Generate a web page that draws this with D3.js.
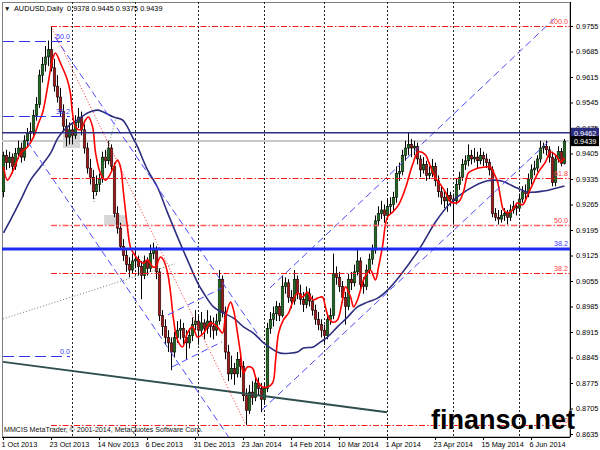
<!DOCTYPE html>
<html><head><meta charset="utf-8">
<script src="https://cdn.jsdelivr.net/npm/d3@7"></script>
<style>
body{margin:0;background:#fff}
svg{display:block}
text{font-family:"Liberation Sans",Arial,sans-serif}
</style>
</head><body>
<svg id="c" width="600" height="450"></svg>
<script>
// ---------------- DATA ----------------
const symbol = "AUDUSD", period = "Daily";
const opens = [
.9300,.9400,.9380,.9395,.9370,.9405,.9420,.9395,.9440,.9460,
.9465,.9510,.9540,.9620,.9650,.9670,.9690,.9640,.9590,.9560,
.9520,.9480,.9450,.9470,.9455,.9490,.9505,.9470,.9420,.9365,
.9340,.9300,.9320,.9335,.9395,.9385,.9420,.9370,.9240,.9200,
.9150,.9125,.9100,.9085,.9110,.9115,.9095,.9070,.9110,.9090,
.9130,.9145,.9080,.8960,.8930,.8900,.8885,.8860,.8900,.8920,
.8925,.8900,.8885,.8905,.8935,.8945,.8920,.8940,.8925,.8945,
.8930,.8920,.8945,.9060,.8970,.8860,.8800,.8815,.8800,.8840,
.8820,.8740,.8700,.8750,.8735,.8775,.8760,.8730,.8760,.8925,
.8950,.8965,.8985,.8960,.9040,.9050,.9010,.9000,.9060,.9020,
.9005,.8990,.9020,.9000,.8975,.8950,.8935,.8920,.8905,.8950,
.8960,.9075,.9065,.9040,.9010,.8985,.9060,.9050,.9080,.9110,
.9045,.9040,.9085,.9115,.9140,.9220,.9240,.9250,.9235,.9260,
.9265,.9285,.9350,.9355,.9400,.9420,.9430,.9420,.9425,.9390,
.9360,.9375,.9345,.9350,.9370,.9330,.9300,.9285,.9275,.9290,
.9280,.9275,.9320,.9340,.9375,.9385,.9400,.9390,.9395,.9385,
.9400,.9390,.9380,.9360,.9240,.9230,.9225,.9235,.9240,.9230,
.9250,.9260,.9255,.9280,.9300,.9295,.9335,.9360,.9365,.9390,
.9420,.9425,.9415,.9395,.9325,.9390,.9410,.9378];
const highs = [
.9410,.9415,.9410,.9405,.9420,.9440,.9435,.9455,.9475,.9490,
.9525,.9560,.9635,.9670,.9700,.9715,.9755,.9665,.9620,.9585,
.9540,.9500,.9490,.9485,.9510,.9530,.9520,.9485,.9435,.9390,
.9360,.9345,.9350,.9410,.9415,.9440,.9430,.9380,.9260,.9215,
.9170,.9140,.9120,.9130,.9135,.9125,.9110,.9125,.9120,.9155,
.9160,.9150,.9090,.8975,.8950,.8920,.8900,.8915,.8945,.8950,
.8940,.8920,.8925,.8955,.8975,.8960,.8970,.8950,.8975,.8960,
.8955,.8965,.9085,.9070,.8985,.8880,.8850,.8830,.8860,.8855,
.8835,.8760,.8770,.8780,.8795,.8790,.8775,.8775,.8940,.8970,
.8985,.9000,.8995,.9070,.9065,.9060,.9030,.9085,.9070,.9045,
.9025,.9040,.9035,.9015,.8990,.8970,.8950,.8935,.8965,.8980,
.9130,.9095,.9080,.9055,.9025,.9075,.9080,.9100,.9140,.9120,
.9065,.9100,.9130,.9155,.9235,.9260,.9275,.9265,.9280,.9285,
.9300,.9370,.9380,.9415,.9440,.9462,.9445,.9440,.9435,.9400,
.9395,.9385,.9370,.9390,.9380,.9345,.9315,.9300,.9310,.9300,
.9295,.9335,.9355,.9390,.9400,.9430,.9415,.9420,.9410,.9420,
.9410,.9405,.9390,.9370,.9255,.9250,.9250,.9255,.9250,.9265,
.9275,.9270,.9295,.9315,.9320,.9350,.9375,.9385,.9400,.9440,
.9435,.9440,.9425,.9410,.9400,.9425,.9420,.9445];
const lows = [
.9285,.9360,.9365,.9350,.9360,.9390,.9380,.9385,.9425,.9440,
.9455,.9495,.9530,.9600,.9630,.9645,.9630,.9575,.9545,.9505,
.9465,.9425,.9430,.9430,.9445,.9475,.9455,.9405,.9350,.9320,
.9280,.9290,.9300,.9325,.9365,.9375,.9355,.9230,.9185,.9140,
.9110,.9080,.9065,.9075,.9090,.9070,.9005,.9060,.9070,.9080,
.9115,.9060,.8945,.8905,.8880,.8860,.8810,.8845,.8885,.8895,
.8880,.8840,.8870,.8890,.8920,.8880,.8905,.8895,.8910,.8900,
.8895,.8905,.8935,.8955,.8840,.8780,.8785,.8770,.8790,.8790,
.8725,.8660,.8690,.8715,.8725,.8740,.8695,.8715,.8750,.8910,
.8930,.8945,.8945,.8955,.9020,.8995,.8980,.8990,.9005,.8990,
.8970,.8980,.8985,.8960,.8935,.8920,.8900,.8880,.8895,.8935,
.8950,.9045,.9025,.8995,.8935,.8975,.9030,.9040,.9070,.9030,
.9020,.9030,.9075,.9100,.9130,.9205,.9225,.9215,.9225,.9240,
.9245,.9270,.9330,.9345,.9385,.9400,.9395,.9400,.9375,.9340,
.9350,.9330,.9335,.9340,.9315,.9285,.9265,.9255,.9245,.9260,
.9210,.9265,.9305,.9330,.9360,.9370,.9375,.9380,.9365,.9375,
.9370,.9365,.9345,.9230,.9220,.9210,.9215,.9220,.9210,.9220,
.9240,.9235,.9245,.9270,.9280,.9285,.9320,.9345,.9355,.9380,
.9405,.9400,.9380,.9315,.9315,.9380,.9370,.9375];
const closes = [
.9400,.9380,.9395,.9370,.9405,.9420,.9395,.9440,.9460,.9465,
.9510,.9540,.9620,.9650,.9670,.9690,.9640,.9590,.9560,.9520,
.9480,.9450,.9470,.9455,.9490,.9505,.9470,.9420,.9365,.9340,
.9300,.9320,.9335,.9395,.9385,.9420,.9370,.9240,.9200,.9150,
.9125,.9100,.9085,.9110,.9115,.9095,.9070,.9110,.9090,.9130,
.9145,.9080,.8960,.8930,.8900,.8885,.8860,.8900,.8920,.8925,
.8900,.8885,.8905,.8935,.8945,.8920,.8940,.8925,.8945,.8930,
.8920,.8945,.9060,.8970,.8860,.8800,.8815,.8800,.8840,.8820,
.8740,.8700,.8750,.8735,.8775,.8760,.8730,.8760,.8925,.8950,
.8965,.8985,.8960,.9040,.9050,.9010,.9000,.9060,.9020,.9005,
.8990,.9020,.9000,.8975,.8950,.8935,.8920,.8905,.8950,.8960,
.9075,.9065,.9040,.9010,.8985,.9060,.9050,.9080,.9110,.9045,
.9040,.9085,.9115,.9140,.9220,.9240,.9250,.9235,.9260,.9265,
.9285,.9350,.9355,.9400,.9420,.9430,.9420,.9425,.9390,.9360,
.9375,.9345,.9350,.9370,.9330,.9300,.9285,.9275,.9290,.9280,
.9275,.9320,.9340,.9375,.9385,.9400,.9390,.9395,.9385,.9400,
.9390,.9380,.9360,.9240,.9230,.9225,.9235,.9240,.9230,.9250,
.9260,.9255,.9280,.9300,.9295,.9335,.9360,.9365,.9390,.9420,
.9425,.9415,.9395,.9325,.9390,.9410,.9378,.9439];

// fast (red) and slow (navy) moving averages: [bar, price]
const fastMA = [[0,.9368],[1.3,.9332],[3.3,.9360],[5.7,.9406],[8,.9423],[10,.9450],[11.7,.9489],[13,.9516],[14.7,.9588],[16.3,.9662],[17.3,.9681],[19,.9653],[21.3,.9607],[22.3,.9571],[23,.9516],[24,.9478],[25.7,.9470],[27.3,.9497],[28.3,.9505],[29.7,.9478],[30.7,.9406],[32.3,.9351],[34,.9332],[35,.9340],[36.7,.9368],[38,.9387],[39,.9368],[40,.9297],[41.3,.9203],[42.3,.9148],[43.3,.9132],[45,.9113],[46.7,.9104],[48,.9113],[49.7,.9094],[50.7,.9094],[52.3,.9121],[53.3,.9113],[54.7,.9077],[55.7,.9022],[56.7,.8948],[58,.8893],[59.7,.8874],[61.3,.8912],[63,.8929],[64.7,.8901],[66.7,.8912],[69,.8940],[71.3,.8929],[73,.8912],[74,.8956],[75.7,.8997],[76.7,.8975],[78,.8912],[79,.8857],[80,.8802],[81.3,.8819],[83,.8816],[84,.8791],[85,.8775],[86.3,.8764],[88,.8764],[89.7,.8775],[90.7,.8838],[91.7,.8912],[93.3,.8948],[95,.8967],[96.3,.8995],[98,.9022],[99.7,.9011],[101.3,.9025],[102.3,.9011],[103.3,.9003],[104.7,.9008],[106.3,.9011],[107.3,.8984],[108.3,.8956],[109.7,.8942],[111.3,.8948],[113,.9003],[114,.9039],[115.7,.9011],[116.7,.8984],[118,.9003],[119,.9030],[120,.9058],[121.3,.9077],[122.3,.9085],[124,.9058],[125,.9093],[126.3,.9148],[128,.9231],[129.7,.9244],[131.7,.9264],[134,.9310],[136.3,.9373],[138.3,.9409],[140.7,.9401],[141.7,.9382],[144,.9338],[145.7,.9319],[147.3,.9299],[149,.9272],[150,.9269],[151.7,.9272],[153.3,.9299],[155,.9352],[156.7,.9360],[158.3,.9365],[160.7,.9368],[162.3,.9368],[163.3,.9354],[164.7,.9327],[165.7,.9283],[166.7,.9250],[168.3,.9242],[169.7,.9250],[171.3,.9269],[173,.9264],[174.7,.9291],[176.3,.9319],[178.3,.9354],[180.7,.9382],[182.3,.9409],[184,.9401],[185.7,.9382],[187,.9393]];
const slowMA = [[0,.9187],[2.3,.9222],[5.7,.9277],[9,.9332],[12.3,.9368],[15.7,.9406],[18.3,.9450],[21.3,.9478],[24.7,.9497],[28,.9516],[31.3,.9524],[33.3,.9519],[36.7,.9505],[39.7,.9497],[41.3,.9478],[43,.9450],[44.7,.9423],[48,.9360],[51.3,.9313],[54.7,.9242],[58,.9176],[61.3,.9113],[64.7,.9050],[66.7,.9022],[70,.8984],[73.3,.8967],[76.7,.8953],[80,.8929],[83.3,.8912],[86.7,.8885],[90,.8866],[92.3,.8857],[95.7,.8857],[98,.8860],[100,.8871],[103.3,.8874],[105.7,.8888],[108,.8901],[111.3,.8929],[114.7,.8956],[118,.8984],[121.3,.8997],[124.7,.9008],[128,.9030],[132.3,.9071],[139,.9148],[144,.9217],[149,.9269],[154.7,.9305],[161.3,.9330],[165.7,.9330],[171.3,.9310],[174.7,.9299],[180,.9302],[187,.9316]];

const xTickBars = [0,16,32,48,64,80,96,112,128,144,160,176];
const xTickLabels = ["1 Oct 2013","23 Oct 2013","14 Nov 2013","6 Dec 2013","31 Dec 2013","23 Jan 2014","14 Feb 2014","10 Mar 2014","1 Apr 2014","23 Apr 2014","15 May 2014","6 Jun 2014"];
const monthStartBars = [23,44,65,87,107,128,150,172];
const yTicks = [0.9755,0.9685,0.9615,0.9545,0.9475,0.9405,0.9335,0.9265,0.9195,0.9125,0.9055,0.8985,0.8915,0.8845,0.8775,0.8705,0.8635];

// red Fibonacci retracement (peak -> trough)
const redFibHigh = 0.9755, redFibLow = 0.8660, redFibBars = [16, 81];
const redFibLevels = [0, 38.2, 50, 61.8, 100];
// blue Fibonacci level stubs
const blueFibLabels = ["50.0","38.2","0.0"];
const blueFibPrices = [0.9714, 0.9508, 0.8849];
const blueFibBars = [0, 22.3];
// horizontal lines
const navyLevel = 0.9462, bidLevel = 0.9439;
const blueLevel = 0.9143, blueLevelLabel = "38.2";
// trend lines / channels: [[bar, price],[bar, price]]
const descChannel = [[[17.3,.9725],[85.7,.8899]], [[8.2,.9437],[75.2,.8627]]];
const flagChannel = [[[55,.8962],[73,.9036]], [[56.3,.8819],[73,.8888]]];
const ascChannel = [[[86.3,.8701],[181.7,.9437]], [[89,.9036],[184,.9777]]];
const slateTrend = [[0,.8833],[128,.8695]];
const grayDotted = [[[0,.8951],[57.3,.9102]], [[30.3,.9272],[37.7,.9505]]];
const grayBoxes = [[[20,25.7],[.9459,.9420]], [[33.7,41],[.9236,.9209]]];
const copyright = "MMCIS MetaTrader, \u00A9 2001-2014, MetaQuotes Software Corp.";
const watermark = "finanso.net";

// ---------------- DRAW ----------------
const svg = d3.select("#c");
const L = 2, R = 570, T = 2, B = 437;
const x = d3.scaleLinear().domain([0, 189]).range([3, 570]);
const y = d3.scaleLinear().domain([0.8635, 0.9755]).range([434, 26]);
const fmt = d3.format(".4f");

svg.append("defs").append("clipPath").attr("id","clip")
  .append("rect").attr("x",L).attr("y",T).attr("width",R-L).attr("height",B-T);

// frame
svg.append("rect").attr("x",L+0.5).attr("y",T+0.5).attr("width",R-L-0.5).attr("height",B-T-0.5)
  .attr("fill","none").attr("stroke","#7f7f7f").attr("stroke-width",1);

const g = svg.append("g").attr("clip-path","url(#clip)");

// month grid (dotted)
g.selectAll("line.grid").data(monthStartBars).join("line")
  .attr("x1",d=>Math.round(x(d))+0.5).attr("x2",d=>Math.round(x(d))+0.5)
  .attr("y1",T).attr("y2",B)
  .attr("stroke","#222").attr("stroke-width",1).attr("stroke-dasharray","2,2");

// gray boxes
g.selectAll("rect.gb").data(grayBoxes).join("rect")
  .attr("x",d=>x(d[0][0])).attr("width",d=>x(d[0][1])-x(d[0][0]))
  .attr("y",d=>y(d[1][0])).attr("height",d=>y(d[1][1])-y(d[1][0]))
  .attr("fill","#d6d6d6");

// bid line
g.append("line").attr("x1",L).attr("x2",R).attr("y1",y(bidLevel)).attr("y2",y(bidLevel))
  .attr("stroke","#c8c8c8").attr("stroke-width",2);

// candles
const idx = d3.range(closes.length);
g.selectAll("line.wick").data(idx).join("line")
  .attr("x1",i=>x(i)+0.5).attr("x2",i=>x(i)+0.5)
  .attr("y1",i=>y(highs[i])).attr("y2",i=>y(lows[i]))
  .attr("stroke","#000").attr("stroke-width",1);
g.selectAll("rect.body").data(idx).join("rect")
  .attr("x",i=>x(i)-0.8).attr("width",2.6)
  .attr("y",i=>y(Math.max(opens[i],closes[i])))
  .attr("height",i=>Math.max(1,Math.abs(y(opens[i])-y(closes[i]))))
  .attr("fill",i=>closes[i]>=opens[i]?"#1f6b1f":"#a01818")
  .attr("stroke","#000").attr("stroke-width",0.5);

// moving averages
const ln = d3.line().x(d=>x(d[0])+0.5).y(d=>y(d[1])).curve(d3.curveCatmullRom);
g.append("path").attr("d",ln(slowMA)).attr("fill","none").attr("stroke","#2e2e80").attr("stroke-width",1.6);
g.append("path").attr("d",ln(fastMA)).attr("fill","none").attr("stroke","#ff0000").attr("stroke-width",1.6);

// helper for segments
function seg(p, stroke, width, dash){
  return g.append("line")
    .attr("x1",x(p[0][0])).attr("y1",y(p[0][1]))
    .attr("x2",x(p[1][0])).attr("y2",y(p[1][1]))
    .attr("stroke",stroke).attr("stroke-width",width)
    .attr("stroke-dasharray",dash||null);
}

// gray dotted lines
grayDotted.forEach(p=>seg(p,"#6f7f6f",1,"1,2"));
// slate trend line
seg(slateTrend,"#2f4f4f",2);
// channels
descChannel.forEach(p=>seg(p,"#4b4bff",1,"7,4"));
flagChannel.forEach(p=>seg(p,"#4b4bff",1,"7,4"));
ascChannel.forEach(p=>seg(p,"#4b4bff",1,"7,4"));

// red fib
const fibPrice = r => redFibLow + r/100*(redFibHigh-redFibLow);
seg([[redFibBars[0],redFibHigh],[redFibBars[1],redFibLow]],"#ff3030",1,"1,2");
redFibLevels.forEach(r=>{
  g.append("line").attr("x1",x(redFibBars[0])).attr("x2",R)
    .attr("y1",Math.round(y(fibPrice(r)))+0.5).attr("y2",Math.round(y(fibPrice(r)))+0.5)
    .attr("stroke",r===50?"#ff5a5a":"#ff1a1a").attr("stroke-width",r===50?1.6:1.1)
    .attr("stroke-dasharray","6,2,1.5,2");
  g.append("text").attr("x",R-2).attr("y",y(fibPrice(r))-2)
    .attr("text-anchor","end").attr("font-size",7.2).attr("fill","#ff4040")
    .text(r.toFixed(1));
});

// blue fib stubs
blueFibPrices.forEach((p,i)=>{
  g.append("line").attr("x1",x(blueFibBars[0])).attr("x2",x(blueFibBars[1]))
    .attr("y1",Math.round(y(p))+0.5).attr("y2",Math.round(y(p))+0.5)
    .attr("stroke","#3434ee").attr("stroke-width",1).attr("stroke-dasharray","11,5");
  g.append("text").attr("x",x(blueFibBars[1])).attr("y",y(p)-2)
    .attr("text-anchor","end").attr("font-size",7.2).attr("fill","#4040ff")
    .text(blueFibLabels[i]);
});

// thick blue level
g.append("line").attr("x1",L).attr("x2",R).attr("y1",y(blueLevel)).attr("y2",y(blueLevel))
  .attr("stroke","#1c2cf0").attr("stroke-width",3);
g.append("text").attr("x",R-2).attr("y",y(blueLevel)-3).attr("text-anchor","end")
  .attr("font-size",7.2).attr("fill","#3a3aff").text(blueLevelLabel);

// navy level
g.append("line").attr("x1",L).attr("x2",R).attr("y1",y(navyLevel)).attr("y2",y(navyLevel))
  .attr("stroke","#2e2e80").attr("stroke-width",1.5);

// ---------- axes ----------
const yAxis = svg.append("g").attr("transform",`translate(${R},0)`)
  .call(d3.axisRight(y).tickValues(yTicks).tickSize(3).tickPadding(3).tickFormat(fmt));
yAxis.select(".domain").attr("d",`M0.5,${T}V${B}`).attr("stroke","#000");
yAxis.selectAll("text").attr("font-size",7.3).attr("font-family","Liberation Sans, Arial, sans-serif").attr("fill","#000");

const xAxis = svg.append("g").attr("transform",`translate(0,${B})`)
  .call(d3.axisBottom(x).tickValues(xTickBars).tickSize(3).tickPadding(2).tickFormat((d,i)=>xTickLabels[i]));
xAxis.select(".domain").attr("d",`M${L},0.5H${R}`).attr("stroke","#000");
xAxis.selectAll("text").attr("text-anchor","start").attr("dx",-2)
  .attr("font-size",7.3).attr("font-family","Liberation Sans, Arial, sans-serif").attr("fill","#000");

// price tags
function tag(v, bg){
  const yy = y(v);
  svg.append("rect").attr("x",R+1).attr("y",yy-5).attr("width",28).attr("height",10).attr("fill",bg);
  svg.append("text").attr("x",R+4).attr("y",yy+3).attr("font-size",7.3).attr("fill","#fff").text(fmt(v));
}
tag(navyLevel,"#2e2e80");
tag(bidLevel,"#000");

// title
const last = closes.length-1;
svg.append("text").attr("x",4).attr("y",11).attr("font-size",6.5).attr("fill","#000").text("\u25BC");
svg.append("text").attr("x",14).attr("y",11).attr("font-size",7.3).attr("fill","#000")
  .attr("xml:space","preserve")
  .text(`${symbol},${period}  ${fmt(opens[last])} ${fmt(highs[last])} ${fmt(lows[last])} ${fmt(closes[last])}`);

// copyright
svg.append("text").attr("x",4).attr("y",432).attr("font-size",7.1).attr("fill","#111").text(copyright);

// watermark
svg.append("text").attr("x",431).attr("y",429).attr("font-size",28).attr("font-weight","bold")
  .attr("textLength",144).attr("lengthAdjust","spacingAndGlyphs")
  .attr("fill","#000").attr("stroke","#fff").attr("stroke-width",0.6).attr("paint-order","stroke").text(watermark);
</script>
</body></html>
